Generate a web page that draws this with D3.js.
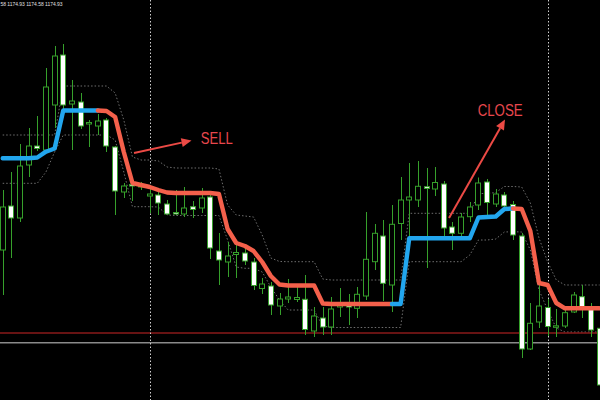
<!DOCTYPE html>
<html><head><meta charset="utf-8">
<script src="https://cdn.jsdelivr.net/npm/d3@7"></script>
<style>html,body{margin:0;padding:0;background:#000;overflow:hidden}</style>
</head><body>
<svg id="c" width="600" height="400"></svg>
<script>
// ---- data (prices) ----
const opens=[1175.0,1179.4,1178.2,1183.5,1185.4,1185.0,1189.5,1194.5,1189.6,1189.8,
1187.6,1187.4,1188.0,1185.3,1180.8,1181.55,1181.3,1180.4,1180.5,1179.6,
1178.75,1178.6,1179.33,1179.2,1180.3,1174.9,1173.8,1174.55,1174.7,1173.8,
1171.15,1171.4,1169.4,1170.1,1170.05,1170.07,1166.9,1168.2,1167.3,1169.3,
1169.57,1169.17,1170.4,1173.83,1176.4,1171.5,1177.65,1180.0,1180.0,1181.33,
1181.1,1181.6,1177.3,1176.67,1178.33,1179.5,1181.8,1179.6,1180.5,1179.55,
1176.4,1165.1,1167.8,1169.25,1167.27,1167.4,1168.8,1170.33,1169.25,1167.17];
const highs=[1181.0,1182.8,1185.6,1187.2,1188.4,1193.2,1195.4,1195.6,1192.0,1190.7,
1188.0,1188.6,1188.2,1185.4,1181.7,1181.7,1181.8,1181.2,1181.0,1180.0,
1181.0,1181.3,1179.9,1181.2,1180.5,1176.7,1175.8,1175.7,1175.2,1174.2,
1172.2,1171.8,1170.7,1172.1,1171.3,1172.5,1169.3,1169.3,1170.3,1171.2,
1170.6,1171.3,1178.8,1177.6,1178.0,1179.5,1182.3,1183.7,1183.9,1183.2,
1183.3,1181.9,1177.8,1178.7,1179.8,1182.25,1182.1,1181.1,1180.8,1179.9,
1176.7,1169.7,1171.6,1170.1,1169.1,1169.3,1170.8,1171.5,1169.7,1169.8];
const lows=[1170.5,1174.2,1177.8,1182.3,1184.9,1184.7,1187.2,1189.0,1185.0,1187.1,
1185.3,1186.5,1184.8,1178.5,1180.2,1179.9,1181.0,1178.7,1178.5,1178.5,
1178.5,1178.3,1178.2,1178.7,1174.1,1171.5,1172.3,1172.2,1173.5,1171.0,
1170.6,1168.5,1168.5,1169.7,1169.8,1166.5,1166.3,1166.5,1166.5,1168.3,
1167.5,1168.2,1170.0,1173.0,1169.9,1168.8,1176.0,1176.0,1179.3,1173.2,
1180.4,1176.0,1175.0,1176.3,1177.8,1179.0,1178.4,1179.3,1179.1,1176.0,
1164.2,1165.0,1167.2,1166.4,1166.3,1167.2,1168.7,1168.2,1166.3,1160.8];
const closes=[1179.3,1178.2,1183.4,1185.4,1185.15,1191.3,1194.4,1189.5,1189.9,1187.4,
1187.75,1187.9,1185.4,1180.9,1181.4,1181.4,1181.5,1180.6,1179.7,1178.6,
1178.6,1179.2,1179.05,1180.2,1175.2,1174.0,1174.4,1174.75,1173.9,1171.45,
1171.6,1169.5,1170.1,1170.3,1170.25,1167.05,1168.4,1167.3,1169.1,1169.6,
1169.3,1170.57,1174.07,1176.67,1171.67,1177.57,1180.0,1180.3,1181.37,1181.15,
1181.75,1177.2,1176.67,1178.3,1179.3,1181.7,1179.75,1180.6,1179.4,1176.5,
1165.1,1167.67,1169.4,1167.35,1167.42,1168.73,1170.5,1169.33,1167.0,1161.5];
const trend=[1184.17,1184.17,1184.17,1184.17,1184.25,1184.83,1185.15,1188.95,1188.95,1188.95,
1188.95,1188.95,1188.9,1188.3,1184.8,1181.7,1181.5,1181.3,1181.0,1180.75,
1180.7,1180.7,1180.7,1180.7,1180.7,1180.6,1177.1,1175.7,1175.4,1174.9,
1173.8,1172.4,1171.55,1171.45,1171.45,1171.45,1171.45,1169.65,1169.6,1169.6,
1169.6,1169.6,1169.6,1169.6,1169.6,1169.6,1169.6,1176.17,1176.17,1176.17,
1176.17,1176.17,1176.17,1176.17,1176.17,1178.25,1178.3,1178.35,1179.1,1179.15,
1179.1,1176.9,1171.7,1171.5,1169.7,1169.17,1169.17,1169.17,1169.17,1169.17];
// 1 = up (blue), -1 = down (red)
const trendDir=[1,1,1,1,1,1,1,1,1,1,1,1,
-1,-1,-1,-1,-1,-1,-1,-1,-1,-1,-1,-1,-1,-1,-1,-1,-1,-1,-1,-1,-1,-1,-1,-1,-1,-1,-1,-1,-1,-1,-1,-1,-1,-1,
1,1,1,1,1,1,1,1,1,1,1,1,1,1,
-1,-1,-1,-1,-1,-1,-1,-1,-1,-1];
const upperBand=[1186.5,1186.5,1186.5,1186.5,1186.5,1186.5,1186.5,1191.4,1191.4,1191.4,
1191.4,1191.4,1191.4,1190.7,1188.0,1184.3,1184.0,1184.0,1183.9,1183.3,
1183.2,1183.2,1183.2,1183.2,1183.2,1183.1,1179.5,1178.5,1178.4,1178.3,
1176.5,1174.2,1173.85,1173.83,1173.83,1173.83,1173.83,1172.1,1172.0,1172.0,
1172.0,1172.0,1172.0,1172.0,1172.0,1172.0,1172.0,1178.67,1178.67,1178.67,
1178.67,1178.67,1178.67,1178.67,1178.67,1180.65,1180.65,1180.75,1181.35,1181.35,
1181.3,1179.7,1176.2,1173.8,1172.0,1171.5,1171.5,1171.5,1171.5,1171.5];
const lowerBand=[1181.67,1181.67,1181.67,1181.67,1181.67,1182.8,1184.8,1186.5,1186.5,1186.5,
1186.5,1186.5,1186.5,1186.0,1182.8,1179.33,1179.33,1179.33,1179.3,1178.5,
1178.45,1178.45,1178.45,1178.45,1178.45,1178.45,1176.0,1173.3,1173.17,1173.17,
1172.8,1171.3,1170.0,1169.0,1169.0,1169.0,1169.0,1167.4,1167.25,1167.25,
1167.25,1167.25,1167.25,1167.25,1167.25,1167.25,1167.25,1173.83,1173.83,1173.83,
1173.83,1173.83,1173.83,1173.83,1174.5,1176.0,1176.0,1176.1,1176.8,1176.83,
1176.8,1175.0,1171.0,1169.0,1167.2,1166.8,1166.8,1166.8,1166.8,1166.8];
const levelPrices=[1166.7,1165.73];      // horizontal levels: red, gray
const separators=[17,63];                // period separator candle indices
const headerText="58 1174.93 1174.58 1174.93";
const signalLabels=["SELL","CLOSE"];
const signalFrom=[[15.18,1184.7],[51.6,1178.2]];
const signalTo=[[21.83,1185.95],[58.07,1188.05]];
const signalText=[[22.89,1185.65],[54.91,1188.4]];

// ---- drawing ----
const W=600,H=400;
const svg=d3.select('#c');
svg.append('rect').attr('width',W).attr('height',H).attr('fill','#000');
const x=d3.scaleLinear().domain([0,opens.length-1]).range([2.7,599.55]);
const y=d3.scaleLinear().domain([1160,1200]).range([H,0]);
const idx=d3.range(opens.length);
const GREEN='#36a02b';

// bands
const bandLine=d3.line().x(i=>x(i));
[upperBand,lowerBand].forEach(b=>{
  svg.append('path').attr('d',bandLine.y(i=>y(b[i]))(idx))
    .attr('fill','none').attr('stroke','#6f6f6f').attr('stroke-width',1)
    .attr('stroke-dasharray','1.5,2');
});

// horizontal levels
const levelColors=['#8a1a1a','#8a8a8a'];
levelPrices.forEach((p,k)=>{
  svg.append('line').attr('x1',0).attr('x2',W).attr('y1',y(p)).attr('y2',y(p))
    .attr('stroke',levelColors[k]).attr('stroke-width',1.6);
});

// separators
separators.forEach(s=>{
  const sx=Math.round(x(s))+0.5;
  svg.append('line').attr('x1',sx).attr('x2',sx).attr('y1',0).attr('y2',H)
    .attr('stroke','#cfcfcf').attr('stroke-width',1).attr('stroke-dasharray','1.5,2');
});

// candles
const cg=svg.append('g');
idx.forEach(i=>{
  const c=Math.round(x(i));
  cg.append('line').attr('x1',c+0.5).attr('x2',c+0.5)
    .attr('y1',y(highs[i])).attr('y2',y(lows[i]))
    .attr('stroke',GREEN).attr('stroke-width',1);
  const top=y(Math.max(opens[i],closes[i])), bot=y(Math.min(opens[i],closes[i]));
  const bull=closes[i]>=opens[i];
  cg.append('rect').attr('x',c-2.5).attr('y',top).attr('width',5)
    .attr('height',Math.max(1,bot-top))
    .attr('fill',bull?'#000':'#ffffff').attr('stroke',GREEN).attr('stroke-width',1);
});

// trend line segments
const tl=d3.line().x(i=>x(i)).y(i=>y(trend[i]));
let groups=[],cur=null;
for(let i=1;i<idx.length;i++){
  const d=trendDir[i];
  if(!cur||cur.dir!==d){cur={dir:d,pts:[i-1]};groups.push(cur);}
  cur.pts.push(i);
}
groups.forEach(g=>{
  svg.append('path').attr('d',tl(g.pts)).attr('fill','none')
    .attr('stroke',g.dir>0?'#22a6ee':'#f4604b').attr('stroke-width',4.4)
    .attr('stroke-linejoin','round').attr('stroke-linecap','round');
});

// signal arrows + labels
const RED='#ec4a45';
signalLabels.forEach((lab,k)=>{
  const x1=x(signalFrom[k][0]),y1=y(signalFrom[k][1]);
  const x2=x(signalTo[k][0]),y2=y(signalTo[k][1]);
  const a=Math.atan2(y2-y1,x2-x1);
  const hl=10,hw=4.5;
  const bx=x2-hl*Math.cos(a),by=y2-hl*Math.sin(a);
  svg.append('line').attr('x1',x1).attr('y1',y1).attr('x2',bx).attr('y2',by)
    .attr('stroke',RED).attr('stroke-width',2);
  const p=[[x2,y2],[bx+hw*Math.sin(a),by-hw*Math.cos(a)],[bx-hw*Math.sin(a),by+hw*Math.cos(a)]];
  svg.append('path').attr('d','M'+p.map(q=>q.join(',')).join('L')+'Z').attr('fill',RED);
  svg.append('text').attr('x',x(signalText[k][0])).attr('y',y(signalText[k][1]))
    .attr('font-family','Liberation Sans, Arial, sans-serif').attr('font-size',16)
    .attr('fill','#e8474d').attr('textLength',lab==='SELL'?32:45)
    .attr('lengthAdjust','spacingAndGlyphs').text(lab);
});

// header
svg.append('text').attr('x',0.5).attr('y',6).attr('font-family','Liberation Sans, Arial, sans-serif')
  .attr('font-size',5).attr('fill','#e0e0e0').attr('textLength',62)
  .attr('lengthAdjust','spacingAndGlyphs').text(headerText);
</script>
</body></html>
